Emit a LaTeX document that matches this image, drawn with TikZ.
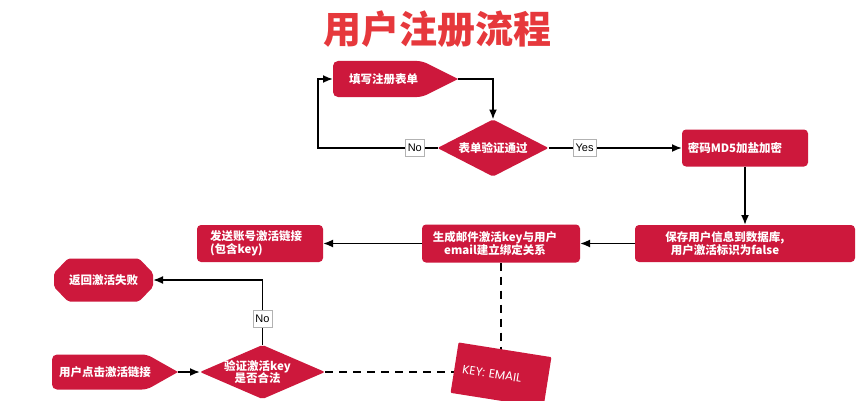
\documentclass[tikz,border=0pt]{standalone}
\usepackage{fontspec}
\setmainfont{Noto Sans CJK SC}
\newfontfamily\lblfont{Liberation Sans}
\newfontfamily\keyfont{Poppins}
\usetikzlibrary{arrows.meta,calc}
\definecolor{redc}{RGB}{205,24,60}
\definecolor{titlec}{RGB}{230,56,60}
\pgfdeclarelayer{bg}
\pgfsetlayers{bg,main}
\begin{document}
\begin{tikzpicture}[x=1pt,y=1pt,
  ghost/.style={draw=none,fill=none,inner sep=0pt,outer sep=0pt},
  rbox/.style={fill=redc,rounded corners=4pt,inner sep=0pt,outer sep=0pt},
  txt/.style={text=white,font=\bfseries\fontsize{11.5}{12.5}\selectfont,inner sep=0pt},
  lbl/.style={draw=gray!60,fill=white,line width=0.8pt,inner xsep=2.5pt,inner ysep=0pt,minimum height=17pt,font=\lblfont\fontsize{11}{12}\selectfont},
  arr/.style={line width=1.8pt,-{Latex[length=10pt,width=8pt]}},
  dsh/.style={line width=2.2pt,dash pattern=on 8pt off 6pt}
]
\useasboundingbox (0,0) rectangle (865,400);

\node[font=\bfseries\fontsize{38}{40}\selectfont,text=titlec] (title) at (437,371) {用户注册流程};

\node[ghost,minimum width=125pt,minimum height=36pt,label={[txt,xshift=-12pt]center:填写注册表单}] (n1) at (395.5,321) {};
\node[ghost,minimum width=111pt,minimum height=57pt,label={[txt]center:表单验证通过}] (n2) at (493,252) {};
\node[rbox,minimum width=126pt,minimum height=37pt,label={[txt,xshift=-10pt]center:密码MD5加盐加密}] (n3) at (745,252) {};
\node[rbox,minimum width=220pt,minimum height=37pt,label={[txt,align=center,xshift=-20pt]center:{保存用户信息到数据库,\\用户激活标识为false}}] (n4) at (745,156.5) {};
\node[rbox,minimum width=158pt,minimum height=38pt,label={[txt,align=center,xshift=-6pt]center:{生成邮件激活key与用户\\email建立绑定关系}}] (n5) at (501,156.5) {};
\node[rbox,minimum width=126pt,minimum height=37pt,label={[txt,align=left,xshift=-4pt]center:{发送账号激活链接\\(包含key)}}] (n6) at (260,156.5) {};
\node[ghost,minimum width=99pt,minimum height=43pt,label={[txt]center:返回激活失败}] (n7) at (103.5,120) {};
\node[ghost,minimum width=126pt,minimum height=35pt,label={[txt,xshift=-10pt]center:用户点击激活链接}] (n8) at (115,28) {};
\node[ghost,minimum width=125pt,minimum height=54pt,label={[txt,align=center,xshift=-5pt]center:{验证激活key\\是否合法}}] (d2) at (262.5,28) {};
\node[rbox,rounded corners=1pt,minimum width=94pt,minimum height=51pt,rotate=-9,text width=78pt,align=left,inner xsep=8pt,text=white,font=\keyfont\fontsize{12}{14}\selectfont] (key) at (501,25) {KEY: EMAIL};

\coordinate (c1) at (318,252);

\begin{pgfonlayer}{bg}
\fill[white] (0,0) rectangle (865,400);
\fill[redc,rounded corners=5pt] (n1.east) -- ([xshift=-36pt]n1.south east) -- (n1.south west) -- (n1.north west) -- ([xshift=-36pt]n1.north east) -- (n1.east);
\fill[redc,rounded corners=5pt] (n8.east) -- ([xshift=-31pt]n8.south east) -- (n8.south west) -- (n8.north west) -- ([xshift=-31pt]n8.north east) -- (n8.east);
\fill[redc,rounded corners=2pt] (n2.north) -- (n2.east) -- (n2.south) -- (n2.west) -- cycle;
\fill[redc,rounded corners=2pt] (d2.north) -- (d2.east) -- (d2.south) -- (d2.west) -- cycle;
\fill[redc,rounded corners=2pt] ([xshift=14pt]n7.north west) -- ([xshift=-14pt]n7.north east) -- ([yshift=-14.5pt]n7.north east) -- ([yshift=14.5pt]n7.south east) -- ([xshift=-14pt]n7.south east) -- ([xshift=14pt]n7.south west) -- ([yshift=14.5pt]n7.south west) -- ([yshift=-14.5pt]n7.north west) -- cycle;
\draw[dsh] (d2.east) -- (d2.east -| key.west);
\draw[dsh] (n5.south) -- (n5.south |- key.north);
\end{pgfonlayer}

\draw[arr] (n1.east) -| (n2.north);
\draw[arr] (n2.west) -- node[lbl,pos=0.19]{No} (c1) |- (n1.west);
\draw[arr] (n2.east) -- node[lbl,pos=0.27]{Yes} (n3.west);
\draw[arr] (n3.south) -- (n4.north);
\draw[arr] (n4.west) -- (n5.east);
\draw[arr] (n5.west) -- (n6.east);
\draw[arr] (n8.east) -- (d2.west);
\draw[arr] (d2.north) |- node[lbl,pos=0.2]{No} (n7.east);
\end{tikzpicture}
\end{document}
